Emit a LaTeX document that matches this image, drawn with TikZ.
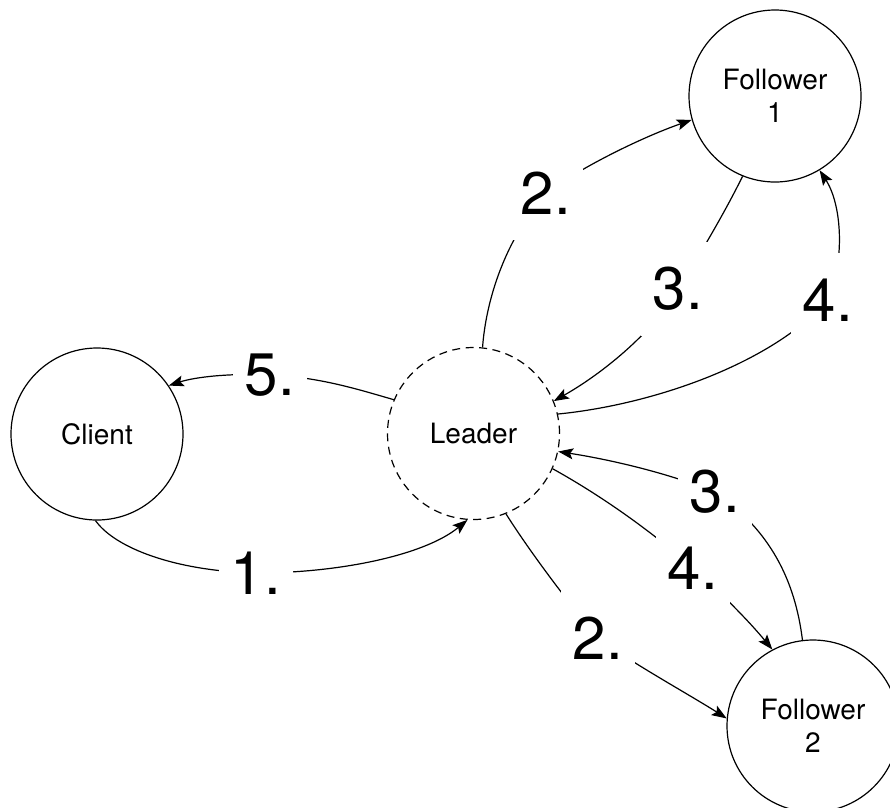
\documentclass[tikz,border=0pt]{standalone}
\usepackage{fontspec}
\setmainfont{TeX Gyre Heros}
\usetikzlibrary{arrows.meta}
\begin{document}
\begin{tikzpicture}[x=1pt,y=-1pt,
    peer/.style={circle,draw,line width=1.2pt,minimum size=172pt,inner sep=0pt,
      align=center,font=\fontsize{28}{33}\selectfont},
    lbl/.style={fill=white,inner sep=0pt,minimum width=74pt,minimum height=94pt,
      font=\fontsize{60}{60}\selectfont},
    msg/.style={line width=1.2pt,-{Stealth[length=15pt,width=11pt,inset=3pt]}}]
  \clip (0,0) rectangle (890,807);
  \draw
    (97,434) node[peer] (client){Client}
    (473.5,433.5) node[peer,dash pattern=on 8pt off 5.5pt] (leader){Leader}
    (775,96) node[peer] (f1){Follower\\1}
    (813,726) node[peer] (f2){Follower\\2};
  \begin{scope}[msg]
    \draw (client.-91) .. controls (115,548) and (175,571) .. (256,573) node[lbl]{1.}
      .. controls (340,573) and (425,555) .. (leader.-94);
    \draw (leader.84) .. controls (486,300) and (505,240) .. (546,193) node[lbl]{2.}
      .. controls (580,168) and (640,138) .. (f1.196);
    \draw (leader.-68) .. controls (530,552) and (570,605) .. (598,638) node[lbl]{2.}
      .. controls (630,662) and (690,695) .. (f2.175);
    \draw (f1.-112) .. controls (725,212) and (698,258) .. (678,289) node[lbl]{3.}
      .. controls (655,330) and (605,372) .. (leader.22);
    \draw (f2.97) .. controls (795,580) and (770,530) .. (715,492) node[lbl]{3.}
      .. controls (660,470) and (600,458) .. (leader.-12);
    \draw (leader.13) .. controls (650,405) and (770,365) .. (828,300) node[lbl]{4.}
      .. controls (845,260) and (842,205) .. (f1.-59);
    \draw (leader.-24) .. controls (600,495) and (650,530) .. (693,568) node[lbl]{4.}
      .. controls (720,592) and (748,620) .. (f2.118);
    \draw (leader.157) .. controls (360,390) and (320,377) .. (270,375) node[lbl]{5.}
      .. controls (230,373) and (195,377) .. (client.34);
  \end{scope}
\end{tikzpicture}
\end{document}
